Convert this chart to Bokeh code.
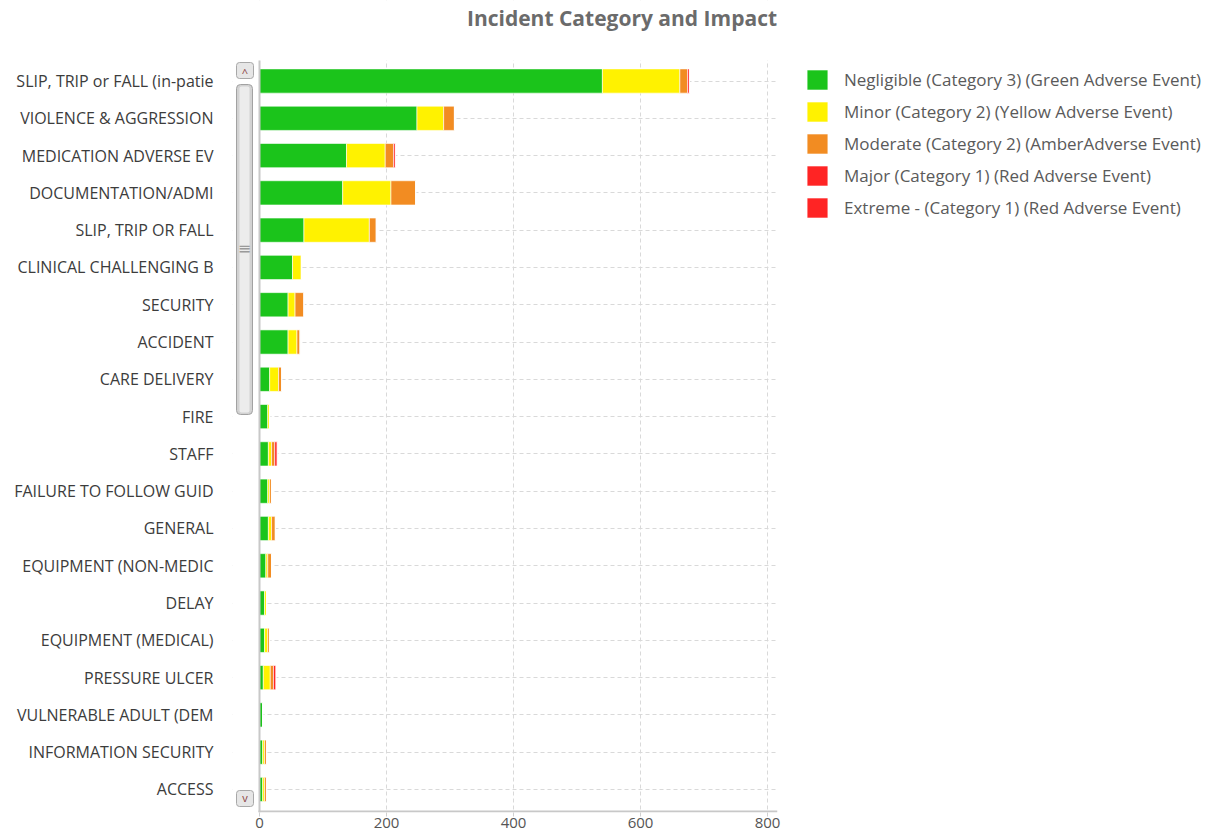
from bokeh.plotting import figure
from bokeh.models import (ColumnDataSource, FixedTicker, Range1d, Legend, LegendItem,
                          BoxAnnotation, Label)
from bokeh.embed import file_html
from bokeh.resources import INLINE

categories = [
    "SLIP, TRIP or FALL (in-patie", "VIOLENCE & AGGRESSION", "MEDICATION ADVERSE EV",
    "DOCUMENTATION/ADMI", "SLIP, TRIP OR FALL", "CLINICAL CHALLENGING B", "SECURITY",
    "ACCIDENT", "CARE DELIVERY", "FIRE", "STAFF", "FAILURE TO FOLLOW GUID", "GENERAL",
    "EQUIPMENT (NON-MEDIC", "DELAY", "EQUIPMENT (MEDICAL)", "PRESSURE ULCER",
    "VULNERABLE ADULT (DEM", "INFORMATION SECURITY", "ACCESS",
]
negligible = [540, 248, 137, 131, 70, 52, 45, 45, 16, 13, 14, 13, 14, 10, 8, 8, 6, 5, 5, 5]
minor      = [122, 42, 61, 76, 103, 14, 11, 14, 14, 3, 5, 3, 5, 3, 3, 5, 11, 0, 3, 3]
moderate   = [12, 17, 13, 39, 11, 0, 14, 5, 5, 0, 5, 3, 6, 6, 0, 3, 5, 0, 3, 3]
major      = [3, 0, 3, 0, 0, 0, 0, 0, 0, 0, 4, 0, 0, 0, 0, 0, 4, 0, 0, 0]
extreme    = [0, 0, 0, 0, 0, 0, 0, 0, 0, 0, 0, 0, 0, 0, 0, 0, 0, 0, 0, 0]

series_names = [
    "Negligible (Category 3) (Green Adverse Event)",
    "Minor (Category 2) (Yellow Adverse Event)",
    "Moderate (Category 2) (AmberAdverse Event)",
    "Major (Category 1) (Red Adverse Event)",
    "Extreme - (Category 1) (Red Adverse Event)",
]
series_keys = ["negligible", "minor", "moderate", "major", "extreme"]
colors = ["#1bc41b", "#fff200", "#f28c22", "#ff2424", "#ff2424"]
x_ticks = [0, 200, 400, 600, 800]
title_text = "Incident Category and Impact"

positions = list(range(len(categories)))
src = ColumnDataSource(dict(y=positions, negligible=negligible, minor=minor,
                            moderate=moderate, major=major, extreme=extreme))

FONT = "Open Sans"

# the frame also covers the scrollbar strip (left) and the title strip (top)
p = figure(frame_width=545, frame_height=812,
           min_border_left=232, min_border_right=449, min_border_top=0, min_border_bottom=0,
           x_range=Range1d(-42.52, 815.75), y_range=Range1d(19.617, -2.159),
           output_backend="svg", toolbar_location=None)
p.outline_line_color = None
p.background_fill_color = "white"
p.border_fill_color = "white"

renderers = p.hbar_stack(series_keys, y="y", height=0.65, source=src,
                         fill_color=colors, line_color="white", line_alpha=0.6, line_width=1)

legend_items = [LegendItem(label=name, renderers=[r]) for name, r in zip(series_names, renderers)]
legend = Legend(items=legend_items, location=(27, 592), margin=0, padding=0, spacing=7,
                glyph_width=26, glyph_height=25, label_standoff=14,
                label_text_font=FONT, label_text_font_size="17px", label_text_color="#5a5a5a",
                border_line_color=None, background_fill_alpha=0)
p.add_layout(legend, "right")

# axes
p.xaxis.ticker = FixedTicker(ticks=x_ticks)
p.xaxis.axis_line_color = None
p.xaxis.major_tick_line_color = "#d0d0d0"
p.xaxis.major_tick_out = 4
p.xaxis.major_tick_in = 0
p.xaxis.minor_tick_line_color = None
p.xaxis.major_label_text_font = FONT
p.xaxis.major_label_text_font_size = "15px"
p.xaxis.major_label_text_color = "#555555"
p.xaxis.major_label_standoff = 1

p.yaxis.ticker = FixedTicker(ticks=positions)
p.yaxis.major_label_overrides = {i: c for i, c in enumerate(categories)}
p.yaxis.axis_line_color = None
p.yaxis.major_tick_line_color = None
p.yaxis.minor_tick_line_color = None
p.yaxis.major_label_standoff = 13
p.yaxis.major_label_text_font = FONT
p.yaxis.major_label_text_font_size = "16px"
p.yaxis.major_label_text_color = "#3c3c3c"

for g in (p.xgrid, p.ygrid):
    g.grid_line_color = "#d9d9d9"
    g.grid_line_dash = "4 3"
    g.grid_line_width = 1


def box(fill, line=None, radius=0, level="overlay", **kw):
    return BoxAnnotation(fill_color=fill, fill_alpha=1, line_color=line,
                         line_alpha=1 if line else 0, line_width=1,
                         border_radius=radius, level=level, **kw)

# white masks so that grid lines only show in the plotting area
p.add_layout(box("white", level="underlay", right=0, right_units="data"))
p.add_layout(box("white", level="underlay", bottom=752, bottom_units="screen"))

# axis lines
p.add_layout(box("#c8c8c8", level="annotation", left=26, right=28, left_units="screen",
                 right_units="screen", bottom=0, top=752, bottom_units="screen", top_units="screen"))
p.add_layout(box("#c8c8c8", level="annotation", left=26, left_units="screen",
                 bottom=0, top=2, bottom_units="screen", top_units="screen"))


def sbox(l, r, b, t, fill, line, radius):
    return box(fill, line, radius, left=l, right=r, bottom=b, top=t,
               left_units="screen", right_units="screen",
               bottom_units="screen", top_units="screen")

# decorative scrollbar
p.add_layout(sbox(4, 21, 734, 750, "#e6e6e6", "#a8a8a8", 3))
p.add_layout(sbox(4, 21, 6, 22, "#e6e6e6", "#a8a8a8", 3))
p.add_layout(sbox(4, 20, 398, 728, "#d2d2d2", "#a2a2a2", 4))
p.add_layout(sbox(7, 17, 400, 726, "#ececec", None, 2))
for txt, yy in (("^", 740), ("v", 15)):
    p.add_layout(Label(x=12.5, y=yy, x_units="screen", y_units="screen", text=txt,
                       text_align="center", text_baseline="middle", level="overlay",
                       text_font=FONT, text_font_size="11px", text_color="#8a4040"))
p.add_layout(Label(x=12, y=564, x_units="screen", y_units="screen", text="\u2261",
                   text_align="center", text_baseline="middle", level="overlay",
                   text_font="DejaVu Sans", text_font_size="16px", text_color="#9a9a9a"))

# title
p.add_layout(Label(x=389.5, y=795, x_units="screen", y_units="screen", text=title_text,
                   text_align="center", text_baseline="middle",
                   text_font=FONT, text_font_size="21px", text_font_style="bold",
                   text_color="#6b6b6b"))

open("out.html", "w").write(file_html(p, INLINE))
